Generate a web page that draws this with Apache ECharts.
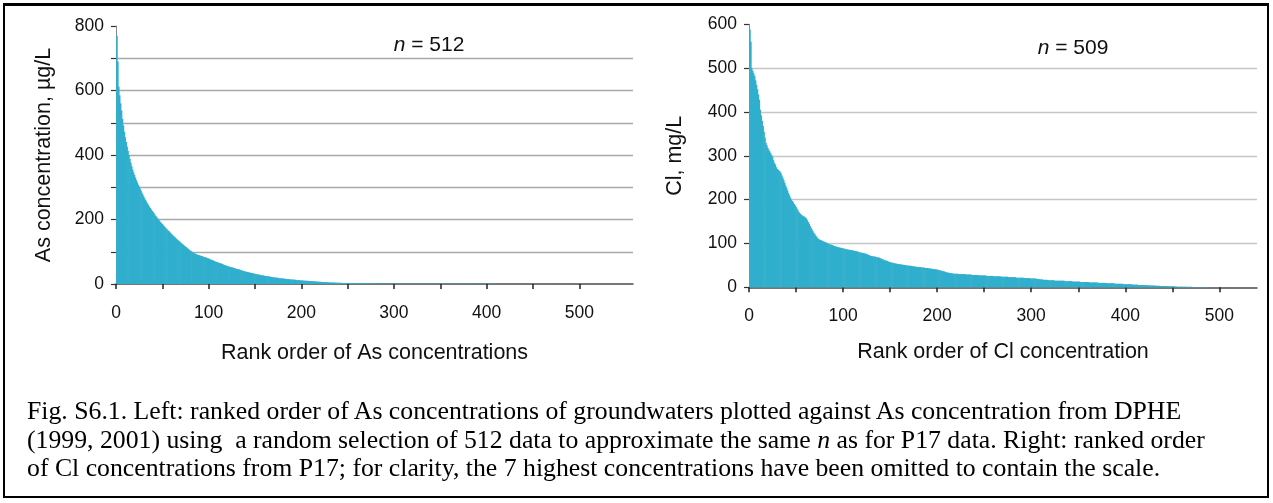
<!DOCTYPE html>
<html>
<head>
<meta charset="utf-8">
<script src="https://cdn.jsdelivr.net/npm/echarts@6/dist/echarts.min.js"></script>
<style>
html,body{margin:0;padding:0;background:#fff;}
#wrap{position:relative;width:1273px;height:503px;overflow:hidden;}
#chart{position:absolute;left:0;top:0;width:1273px;height:503px;}
#frame{position:absolute;left:3px;top:3px;width:1266px;height:495px;border:2px solid #000;border-top-width:3px;box-sizing:border-box;pointer-events:none;}
#cap{position:absolute;left:27px;top:397px;font-family:"Liberation Serif","Times New Roman",serif;font-size:25px;line-height:28.5px;color:#000;white-space:nowrap;transform:scaleX(1.03);transform-origin:0 0;}
</style>
</head>
<body>
<div id="wrap">
<div id="chart"></div>
<div id="frame"></div>
<div id="cap">Fig. S6.1. Left: ranked order of As concentrations of groundwaters plotted against As concentration from DPHE<br>(1999, 2001) using&nbsp; a random selection of 512 data to approximate the same <i>n</i> as for P17 data. Right: ranked order<br>of Cl concentrations from P17; for clarity, the 7 highest concentrations have been omitted to contain the scale.</div>
</div>
<script>
// Ranked As concentrations (µg/L), rank 1..512
const asValues = [
770,690,612,585,560,538,512,492,472,455,
440,426,413,400,388,376,365,355,346,338,
330,322,315,308,302,296,290,283,277,271,
265,260,255,250,245,240,236,231,227,223,
219,215,211,207,203,199,196,192,189,186,
182,179,176,173,170,167,164,161,158,155,
152,149,147,144,141,138,136,133,131,128,
126,123,121,118,116,114,111,109,106,104,
102,100,98,96,95,93,92,91,90,89,
88,87,86,85,84,83,82,81,80,79,
78,76,75,74,73,71,70,69,68,67,
66,65,64,63,62,60,59,58,57,56,
55,54,53,53,52,51,50,49,48,47,
46,46,45,44,43,42,41,40,39,38,
38,37,36,36,35,34,34,33,32,32,
31,30,30,29,29,28,27,27,26,26,
25,25,24,24,23,23,22,22,21,21,
20,20,20,19,19,18,18,18,17,17,
17,16,16,16,15,15,15,14,14,14,
14,13,13,13,12,12,12,12,11,11,
11,11,10,10,10,10,9.6,9.4,9.1,8.9,
8.7,8.5,8.2,8,7.8,7.6,7.4,7.2,7,6.8,
6.6,6.4,6.2,6.1,5.9,5.7,5.5,5.4,5.2,5,
4.9,4.8,4.6,4.5,4.4,4.2,4.1,4,3.9,3.8,
3.7,3.6,3.5,3.4,3.3,3.2,3.1,3,3,2.9,
2.8,2.7,2.7,2.6,2.5,2.5,2.4,2.3,2.3,2.2,
2.2,2.1,2.1,2,2,1.9,1.9,1.8,1.8,1.7,
1.7,1.6,1.6,1.6,1.5,1.5,1.4,1.4,1.4,1.3,
1.3,1.3,1.2,1.2,1.2,1.1,1.1,1.1,1,1,
1,1,0.9,0.9,0.9,0.9,0.8,0.8,0.8,0.8,
0.7,0.7,0.7,0.7,0.7,0.7,0.7,0.7,0.7,0.7,
0.7,0.7,0.7,0.7,0.7,0.7,0.7,0.7,0.7,0.7,
0.6,0.6,0.6,0.6,0.6,0.6,0.6,0.6,0.6,0.6,
0.6,0.6,0.6,0.6,0.6,0.6,0.6,0.6,0.6,0.6,
0.6,0.6,0.6,0.6,0.6,0.6,0.6,0.6,0.6,0.6,
0.5,0.5,0.5,0.5,0.5,0.5,0.5,0.5,0.5,0.5,
0.5,0.5,0.5,0.5,0.5,0.5,0.5,0.5,0.5,0.5,
0.5,0.5,0.5,0.5,0.5,0.5,0.5,0.5,0.5,0.5,
0.4,0.4,0.4,0.4,0.4,0.4,0.4,0.4,0.4,0.4,
0.4,0.4,0.4,0.4,0.4,0.4,0.4,0.4,0.4,0.4,
0.4,0.4,0.4,0.4,0.4,0.4,0.4,0.4,0.4,0.4,
0.3,0.3,0.3,0.3,0.3,0.3,0.3,0.3,0.3,0.3,
0.3,0.3,0.3,0.3,0.3,0.3,0.3,0.3,0.3,0.3,
0.3,0.3,0.3,0.3,0.3,0.3,0.3,0.3,0.3,0.3,
0.2,0.2,0.2,0.2,0.2,0.2,0.2,0.2,0.2,0.2,
0.2,0.2,0.2,0.2,0.2,0.2,0.2,0.2,0.2,0.2,
0.2,0.2,0.2,0.2,0.2,0.2,0.2,0.2,0.2,0.2,
0.1,0.1,0.1,0.1,0.1,0.1,0.1,0.1,0.1,0.1,
0.1,0.1,0.1,0.1,0.1,0.1,0.1,0.1,0.1,0.1,
0.1,0.1,0.1,0.1,0.1,0.1,0.1,0.1,0.1,0.1,
0,0,0,0,0,0,0,0,0,0,
0,0
];
// Ranked Cl concentrations (mg/L), rank 1..509
const clValues = [
588,560,500,494,488,482,472,462,452,440,
428,405,392,380,368,355,342,330,324,318,
314,310,306,302,298,290,284,280,274,270,
268,266,264,260,255,250,244,238,232,227,
221,215,210,205,200,197,194,190,187,184,
180,176,172,169,167,165,163,162,161,159,
157,153,149,145,140,136,132,128,124,121,
118,115,112,110,109,108,107,106,105,104,
103,102,101,100,99,98,97,97,96,95,
94,93,93,92,91,91,90,90,89,89,
88,88,87,87,86,86,85,85,85,84,
84,83,83,82,82,81,80,80,79,79,
78,78,77,77,76,75,74,73,72,71,
71,70,70,70,69,69,68,68,67,66,
65,64,63,62,61,61,60,59,58,57,
57,56,56,55,55,54,54,53,53,53,
52,52,52,51,51,51,50,50,50,49,
49,49,48,48,48,47,47,47,46,46,
46,46,45,45,45,45,44,44,44,44,
43,43,43,42,42,42,41,41,41,40,
40,39,39,38,38,37,36,36,35,34,
34,33,33,32,32,32,31,31,31,31,
31,31,30,30,30,30,30,30,30,30,
29,29,29,29,29,29,28,28,28,28,
28,28,28,28,27,27,27,27,27,27,
27,27,26,26,26,26,26,26,26,25,
25,25,25,25,25,25,25,24,24,24,
24,24,24,24,24,23,23,23,23,23,
23,23,23,22,22,22,22,22,22,22,
22,21,21,21,21,21,21,21,20,20,
20,20,20,20,20,19,19,19,18,18,
18,18,17,17,17,17,17,16,16,16,
16,16,16,16,15,15,15,15,15,15,
15,15,15,15,15,14,14,14,14,14,
14,14,14,13,13,13,13,13,13,13,
13,12,12,12,12,12,12,12,12,12,
12,11,11,11,11,11,11,11,11,11,
11,10,10,10,10,10,10,10,10,10,
9,9,9,9,9,9,9,9,8,8,
8,8,8,8,8,8,8,7,7,7,
7,7,7,7,7,7,7,6,6,6,
6,6,6,5,5,5,5,5,5,5,
5,4.5,4.5,4.5,4.5,4,4,4,4,4,
4,3.5,3.5,3.5,3.5,3.5,3,3,3,3,
3,3,2.8,2.8,2.5,2.5,2.5,2.2,2.2,2.2,
2,2,2,2,1.5,1.5,1.5,1.5,1.5,1.5,
1.2,1.2,1.2,1.2,1.2,1,1,1,1,1,
0.8,0.8,0.8,0.8,0.8,0.6,0.6,0.6,0.6,0.6,
0.5,0.5,0.5,0.5,0.4,0.4,0.4,0.4,0.3,0.3,
0.3,0.3,0.2,0.2,0.2,0.2,0.2,0.1,0.1,0.1,
0.1,0.1,0.1,0.1,0.1,0.1,0.1,0.1,0.1
];
const xTickValues = [0,50,100,150,200,250,300,350,400,450,500];
const xLabelValues = [0,100,200,300,400,500];
const asTitle = 'As concentration, µg/L';
const clTitle = 'Cl, mg/L';
const asXTitle = 'Rank order of As concentrations';
const clXTitle = 'Rank order of Cl concentration';
const asN = 512;
const clN = 509;

const barColor = '#30afcd';
const font = '"Liberation Sans", Arial, sans-serif';

const asData = asValues.map((v, i) => [i + 1, v]);
const clData = clValues.map((v, i) => [i + 1, v]);

function xAxisCfg(gridIndex, max, name, gap) {
  return {
    type: 'value', gridIndex: gridIndex, min: 0, max: max, interval: 50,
    name: name, nameLocation: 'middle', nameGap: gap,
    nameTextStyle: {fontFamily: font, fontSize: 21.5, color: '#111'},
    axisLine: {show: true, onZero: false, lineStyle: {color: '#4a4a4a', width: 1.5}},
    axisTick: {show: true, length: 5, inside: false, customValues: xTickValues, lineStyle: {color: '#222', width: 1.5}},
    axisLabel: {show: true, margin: 20, customValues: xLabelValues, fontFamily: font, fontSize: 17.5, color: '#111',
      formatter: v => (v % 100 === 0 ? String(v) : '')},
    splitLine: {show: false}
  };
}
function yAxisCfg(gridIndex, max, name, gap, gridColor, labelStep) {
  return {
    type: 'value', gridIndex: gridIndex, min: 0, max: max, interval: 100,
    name: name, nameLocation: 'middle', nameGap: gap,
    nameTextStyle: {fontFamily: font, fontSize: 21.5, color: '#111'},
    axisLine: {show: true, lineStyle: {color: '#8a8a8a', width: 1}},
    axisTick: {show: true, length: 5, lineStyle: {color: '#333', width: 1.2}},
    axisLabel: {show: true, margin: 12, fontFamily: font, fontSize: 17.5, color: '#111',
      formatter: v => (v % labelStep === 0 ? String(v) : '')},
    splitLine: {show: true, showMinLine: false, showMaxLine: false, lineStyle: {color: gridColor, width: 1.3}}
  };
}

const chart = echarts.init(document.getElementById('chart'), null, {renderer: 'canvas'});
chart.setOption({
  animation: false,
  backgroundColor: 'transparent',
  title: [
    {text: '{i|n} = ' + asN, left: 424, top: 30, textAlign: 'center',
      textStyle: {rich: {i: {fontStyle: 'italic', fontFamily: font, fontSize: 21, color: '#111'}}, fontFamily: font, fontSize: 21, fontWeight: 'normal', color: '#111'}},
    {text: '{i|n} = ' + clN, left: 1068, top: 33, textAlign: 'center',
      textStyle: {rich: {i: {fontStyle: 'italic', fontFamily: font, fontSize: 21, color: '#111'}}, fontFamily: font, fontSize: 21, fontWeight: 'normal', color: '#111'}}
  ],
  grid: [
    {left: 116, top: 26, width: 517, height: 258},
    {left: 749, top: 24.3, width: 508, height: 263}
  ],
  xAxis: [
    xAxisCfg(0, 558, asXTitle, 58),
    xAxisCfg(1, 540, clXTitle, 54)
  ],
  yAxis: [
    yAxisCfg(0, 800, asTitle, 61, '#a9a9a9', 200),
    yAxisCfg(1, 600, clTitle, 63, '#c6c6c6', 100)
  ],
  series: [
    {type: 'bar', xAxisIndex: 0, yAxisIndex: 0, data: asData, barWidth: 1.6, barGap: '-100%',
      itemStyle: {color: barColor}, silent: true},
    {type: 'bar', xAxisIndex: 1, yAxisIndex: 1, data: clData, barWidth: 1.6, barGap: '-100%',
      itemStyle: {color: barColor}, silent: true}
  ]
});
</script>
</body>
</html>
